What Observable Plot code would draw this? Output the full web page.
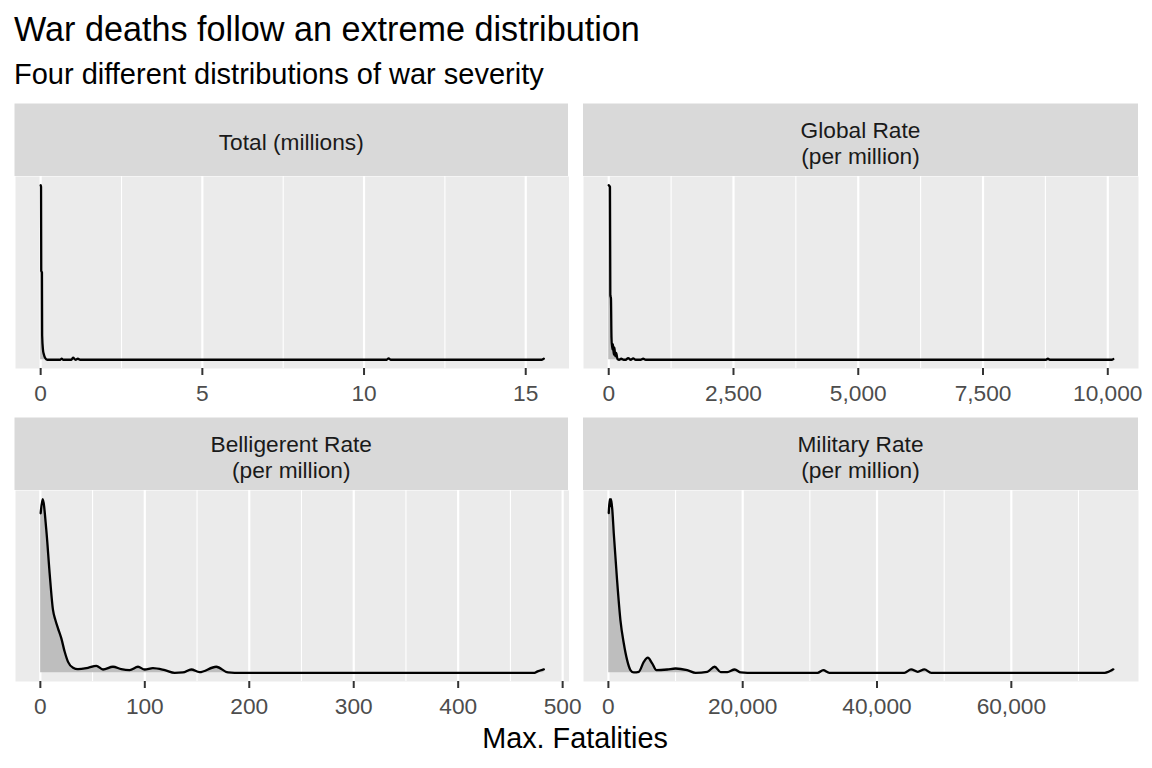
<!DOCTYPE html>
<html><head><meta charset="utf-8">
<script src="https://cdn.jsdelivr.net/npm/d3@7"></script>
<script src="https://cdn.jsdelivr.net/npm/@observablehq/plot@0.6"></script>
<style>
body{margin:0;background:#fff;}
#c{position:relative;width:1152px;height:768px;overflow:hidden;}
#c svg{position:absolute;}
</style></head><body><div id="c"></div>
<script>
// ---- data (density curves; y = relative density, peak = 1) ----
const facetLabels = ["Total (millions)", "Global Rate\n(per million)", "Belligerent Rate\n(per million)", "Military Rate\n(per million)"];

const totalX = [0, 0.012, 0.018, 0.04, 0.046, 0.07, 0.1, 0.14, 0.2, 0.6, 0.65, 0.7, 0.95, 1.0, 1.08, 1.15, 1.22, 10.7, 10.76, 10.82, 15.5, 15.56];
const totalY = [1.0, 0.99, 0.51, 0.50, 0.14, 0.06, 0.03, 0.01, 0.0, 0.0, 0.006, 0.0, 0.0, 0.012, 0.0, 0.006, 0.0, 0.0, 0.008, 0.0, 0.0, 0.006];

const globalX = [0, 25, 32, 45, 55, 70, 85, 100, 115, 130, 150, 175, 210, 250, 300, 340, 390, 440, 490, 540, 640, 690, 740, 8760, 8800, 8840, 10080, 10110];
const globalY = [1.0, 0.99, 0.37, 0.35, 0.13, 0.06, 0.09, 0.03, 0.07, 0.02, 0.04, 0.005, 0.0, 0.006, 0.0, 0.0, 0.01, 0.0, 0.008, 0.0, 0.0, 0.006, 0.0, 0.0, 0.006, 0.0, 0.0, 0.004];

const bellX = [0.3, 2.2, 5.7, 8.9, 12.1, 14.4, 16.9, 20.1, 23.3, 26.5, 31.3, 36.0, 45.6, 53.6, 60.0, 69.5, 77.5, 85.5, 93.5, 99.8, 107.8, 119.2, 128.6, 136.5, 144.5, 152.4, 168.4, 179.6, 186, 473, 476, 482];
const bellY = [0.919, 1.0, 0.823, 0.573, 0.362, 0.304, 0.256, 0.198, 0.121, 0.063, 0.029, 0.021, 0.029, 0.040, 0.019, 0.035, 0.021, 0.016, 0.035, 0.019, 0.027, 0.015, 0.0, 0.002, 0.019, 0.004, 0.035, 0.002, 0.0, 0.0, 0.008, 0.02];

const milX = [50, 200, 300, 400, 600, 800, 1290, 1790, 2290, 2790, 3280, 3780, 4530, 5270, 5870, 6520, 7160, 8760, 10000, 11740, 12990, 14730, 15820, 16720, 17710, 18810, 19700, 20700, 31150, 31990, 32890, 44070, 45070, 46070, 47060, 48060, 73920, 75180];
const milY = [0.92, 1.0, 0.96, 1.0, 0.93, 0.804, 0.535, 0.304, 0.170, 0.073, 0.016, 0.002, 0.006, 0.063, 0.087, 0.054, 0.015, 0.019, 0.025, 0.015, 0.0, 0.006, 0.035, 0.004, 0.004, 0.019, 0.002, 0.0, 0.0, 0.015, 0.0, 0.0, 0.02, 0.006, 0.02, 0.0, 0.0, 0.02];

// axis breaks (tick labels) and minor breaks
const totalMajor = [0, 5, 10, 15];
const totalMinor = [2.5, 7.5, 12.5];
const globalMajor = [0, 2500, 5000, 7500, 10000];
const globalMinor = [1250, 3750, 6250, 8750];
const bellMajor = [0, 100, 200, 300, 400, 500];
const bellMinor = [50, 150, 250, 350, 450];
const milMajor = [0, 20000, 40000, 60000];
const milMinor = [10000, 30000, 50000, 70000];

const titleText = "War deaths follow an extreme distribution";
const subtitleText = "Four different distributions of war severity";
const xTitle = "Max. Fatalities";

// ---- layout ----
const FONT = '"Liberation Sans", Arial, Helvetica, sans-serif';
const cols = [{left: 14.5, width: 553.5}, {left: 583, width: 555}];
const rows = [{strip: 103.5, top: 176, h: 192}, {strip: 417.5, top: 490, h: 191}];
const series = [
  {xs: totalX, ys: totalY, major: totalMajor, minor: totalMinor},
  {xs: globalX, ys: globalY, major: globalMajor, minor: globalMinor},
  {xs: bellX, ys: bellY, major: bellMajor, minor: bellMinor},
  {xs: milX, ys: milY, major: milMajor, minor: milMinor}
];

const container = document.getElementById("c");
const fmt = d3.format(",");
const MB = 45;

series.forEach((s, i) => {
  const col = cols[i % 2], row = rows[Math.floor(i / 2)];
  const data = s.xs.map((x, j) => ({x, y: s.ys[j]}));
  const [mn, mx] = d3.extent(s.xs);
  const pad = (mx - mn) * 0.05;
  const plot = Plot.plot({
    width: col.width,
    height: row.h + MB,
    marginTop: 0, marginLeft: 0, marginRight: 0, marginBottom: MB,
    x: {domain: [mn - pad, mx + pad]},
    y: {domain: [-0.05, 1.05], axis: null},
    style: {fontFamily: FONT, background: "transparent", overflow: "visible"},
    marks: [
      Plot.frame({fill: "#EBEBEB", stroke: null}),
      Plot.ruleX(s.minor, {stroke: "#FFFFFF", strokeWidth: 1.1}),
      Plot.ruleX(s.major, {stroke: "#FFFFFF", strokeWidth: 2.2}),
      Plot.areaY(data, {x: "x", y: "y", fill: "#BEBEBE", curve: "monotone-x"}),
      Plot.line(data, {x: "x", y: "y", stroke: "#000000", strokeWidth: 2.3, curve: "monotone-x"}),
      Plot.axisX({ticks: s.major, tickSize: 7, tickPadding: 9, tickFormat: fmt, fontSize: 22.7,
                  fill: "#4D4D4D", stroke: "#333333", strokeWidth: 2, label: null})
    ]
  });
  plot.style.position = "absolute";
  plot.style.left = col.left + "px";
  plot.style.top = row.top + "px";
  container.append(plot);
});

// ---- overlay: titles, strips, axis title ----
const ov = d3.create("svg").attr("width", 1152).attr("height", 768)
  .style("left", "0px").style("top", "0px").style("font-family", FONT);
ov.append("text").attr("x", 14).attr("y", 41).attr("font-size", 34.2).attr("fill", "#000").text(titleText);
ov.append("text").attr("x", 14).attr("y", 84).attr("font-size", 29).attr("fill", "#000").text(subtitleText);
facetLabels.forEach((lab, i) => {
  const col = cols[i % 2], row = rows[Math.floor(i / 2)];
  const sh = row.top - row.strip;
  ov.append("rect").attr("x", col.left).attr("y", row.strip).attr("width", col.width).attr("height", sh).attr("fill", "#D9D9D9");
  const lines = lab.split("\n");
  const cx = col.left + col.width / 2;
  if (lines.length === 1) {
    ov.append("text").attr("x", cx).attr("y", row.strip + 46.5).attr("text-anchor", "middle")
      .attr("font-size", 22.7).attr("fill", "#1A1A1A").text(lines[0]);
  } else {
    lines.forEach((ln, k) => {
      ov.append("text").attr("x", cx).attr("y", row.strip + 34.5 + k * 26).attr("text-anchor", "middle")
        .attr("font-size", 22.7).attr("fill", "#1A1A1A").text(ln);
    });
  }
});
ov.append("text").attr("x", 575).attr("y", 748).attr("text-anchor", "middle").attr("font-size", 28.8).attr("fill", "#000").text(xTitle);
container.append(ov.node());
</script></body></html>
